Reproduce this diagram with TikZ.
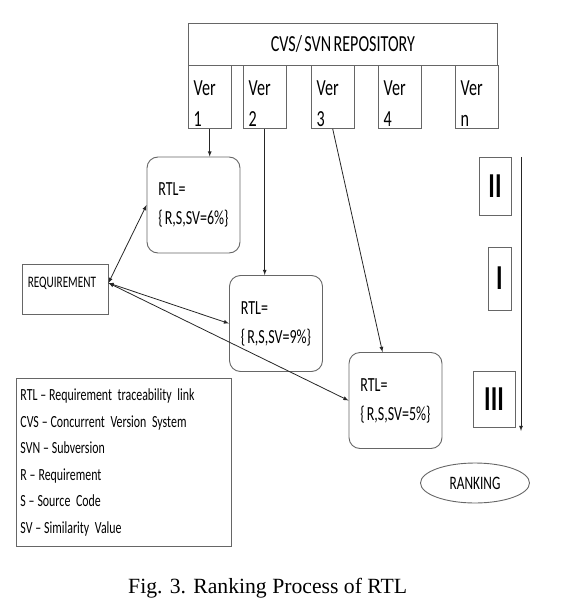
\documentclass[tikz,border=0pt]{standalone}
\usepackage{fontspec}
\setmainfont{Carlito}[FakeStretch=0.7, WordSpace=0.65]
\newfontfamily\capfont{Liberation Serif}
\usetikzlibrary{shapes.geometric}
\begin{document}
\begin{tikzpicture}[x=1pt,y=-1pt,>=latex,
    outline/.style={draw=black!60, line width=0.9pt, inner sep=0pt},
    verbox/.style={outline, anchor=north west, minimum width=42.5pt, minimum height=63pt},
    vertext/.style={anchor=base west, inner sep=0pt, font=\fontsize{23}{23}\selectfont},
    rtlbox/.style={outline, rounded corners=11pt, minimum width=93pt, minimum height=96pt,
      align=left, font=\fontsize{20}{29}\selectfont},
    numeral/.style={outline, font=\fontsize{35}{35}\bfseries\selectfont},
    link/.style={black!85, line width=0.8pt}]
  \useasboundingbox (0,0) rectangle (562,604);
  % repository and its versions
  \node[outline, anchor=north west, minimum width=309pt, minimum height=42pt,
    font=\fontsize{23}{23}\selectfont] (repo) at (188,23) {CVS/ SVN REPOSITORY};
  \foreach \i/\x/\t in {1/188/1, 2/243/2, 3/311/3, 4/378/4, 5/455/n} {
    \node[verbox] (v\i) at (\x,65) {};
    \node[vertext] at ([xshift=5.5pt,yshift=-31pt]v\i.north west) {Ver};
    \node[vertext] at ([xshift=5.5pt,yshift=-62pt]v\i.north west) {\t};
  }
  % links
  \node[rtlbox] (r1) at (193.5,205) {RTL=\\\{ R,S,SV=6\%\}};
  \node[rtlbox] (r2) at (276,323.5) {RTL=\\\{ R,S,SV=9\%\}};
  \node[rtlbox] (r3) at (395.5,400.5) {RTL=\\\{ R,S,SV=5\%\}};
  \node[outline, minimum width=86pt, minimum height=50pt] (req) at (65,289) {};
  \node[anchor=base west, inner sep=0pt, font=\fontsize{16}{16}\selectfont]
    at ([xshift=6pt,yshift=2pt]req.west) {REQUIREMENT};
  % ranking
  \node[numeral, minimum width=32pt, minimum height=58pt] (rk2) at (495,186) {II};
  \node[numeral, minimum width=23pt, minimum height=63pt] (rk1) at (499.5,278.5) {I};
  \node[numeral, minimum width=42pt, minimum height=56pt] (rk3) at (494,399) {III};
  \node[outline, ellipse, minimum width=109pt, minimum height=40pt,
    font=\fontsize{19}{19}\selectfont] (rank) at (475,483) {RANKING};
  \coordinate (rtop) at (521,157);
  \coordinate (rbot) at (521,431);
  % legend
  \node[outline, anchor=north west, text width=207pt, inner xsep=4pt, minimum height=168pt,
    align=left, font=\fontsize{17}{26.5}\selectfont] (legend) at (16,378)
    {RTL\,--\,Requirement traceability link\\CVS\,--\,Concurrent Version System\\
     SVN\,--\,Subversion\\R\,--\,Requirement\\S\,--\,Source Code\\SV\,--\,Similarity Value};
  \node[anchor=base west, inner sep=0pt, font=\capfont\fontsize{21.7}{26}\selectfont]
    (caption) at (128,593) {Fig. 3. Ranking Process of RTL};
  % arrows
  \draw[link,->] (v1.south) -- (v1.south |- r1.north);
  \draw[link,->] (v2.south) -- (v2.south |- r2.north);
  \draw[link,->] (v3.south) -- ([xshift=-13pt]r3.north);
  \coordinate (rq) at ([yshift=6pt]req.east);
  \draw[link,<->] (rq) -- (r1.west);
  \draw[link,<->] (rq) -- (r2.west);
  \draw[link,<->] (rq) -- (r3.west);
  \draw[link,->] (rtop) -- (rbot);
\end{tikzpicture}
\end{document}
